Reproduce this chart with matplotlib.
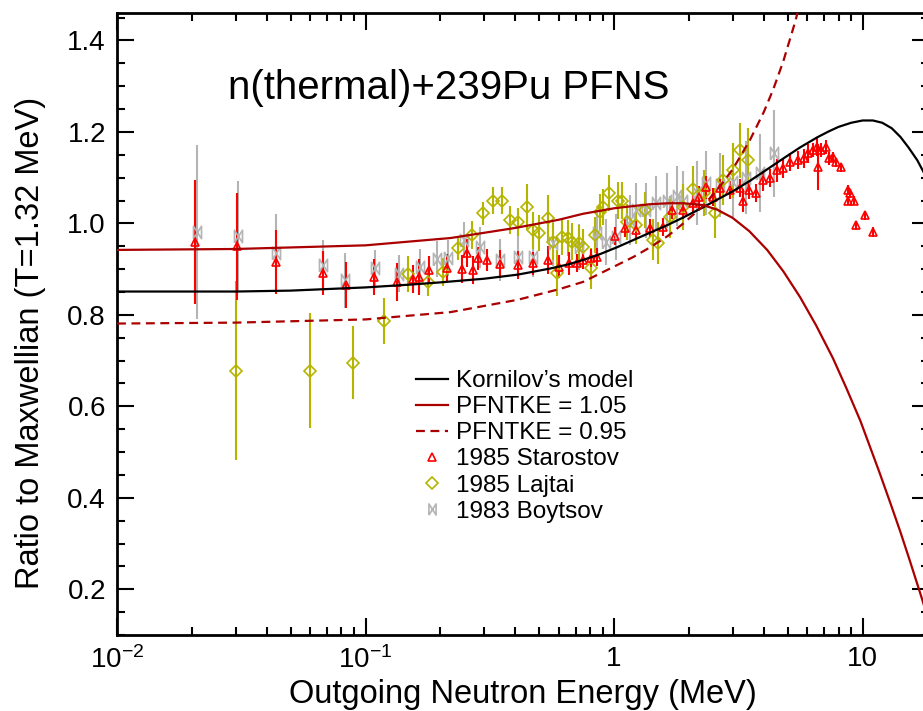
import matplotlib
matplotlib.use("Agg")
import matplotlib.pyplot as plt
from matplotlib.path import Path
from matplotlib.lines import Line2D
from matplotlib.ticker import FixedLocator, FixedFormatter, LogLocator, NullFormatter, MultipleLocator

plt.rcParams['font.family'] = ['Liberation Sans', 'DejaVu Sans']
plt.rcParams['mathtext.fontset'] = 'custom'
plt.rcParams['mathtext.rm'] = 'Liberation Sans'

# ---- model curves (ratio to Maxwellian) ----
kor_e = [0.01, 0.03, 0.05, 0.1, 0.15, 0.2, 0.3, 0.41, 0.55, 0.65, 0.75, 0.88, 1.03, 1.2, 1.4,
         1.65, 1.9, 2.28, 2.6, 3.0, 3.52, 4.1, 4.8, 5.6, 6.56, 7.3, 8.0, 9.0, 10.0, 11.0, 12.0,
         13.1, 14.2, 15.3, 16.6, 17.6, 18.6]
kor_r = [0.851, 0.851, 0.853, 0.860, 0.866, 0.871, 0.879, 0.888, 0.901, 0.910, 0.920, 0.933,
         0.948, 0.964, 0.980, 0.997, 1.013, 1.035, 1.052, 1.070, 1.093, 1.117, 1.142, 1.166,
         1.188, 1.201, 1.211, 1.220, 1.225, 1.225, 1.220, 1.208, 1.189, 1.166, 1.138, 1.112, 1.088]

hi_e = [0.01, 0.03, 0.1, 0.22, 0.4, 0.6, 0.75, 1.0, 1.2, 1.4, 1.65, 1.9, 2.28, 2.6, 3.0, 3.5,
        4.13, 4.8, 5.6, 6.5, 7.6, 8.6, 9.8, 10.7, 11.7, 13.0, 14.2, 15.5, 17.2, 18.6]
hi_r = [0.942, 0.944, 0.952, 0.968, 0.990, 1.008, 1.021, 1.033, 1.038, 1.042, 1.044, 1.044,
        1.040, 1.030, 1.012, 0.983, 0.942, 0.895, 0.839, 0.777, 0.705, 0.640, 0.568, 0.512,
        0.455, 0.385, 0.325, 0.262, 0.185, 0.125]

lo_e = [0.01, 0.03, 0.1, 0.22, 0.41, 0.6, 0.75, 1.03, 1.2, 1.4, 1.65, 1.9, 2.25, 2.6, 3.0,
        3.52, 4.0, 4.37, 4.8, 5.35, 5.9]
lo_r = [0.781, 0.783, 0.790, 0.806, 0.833, 0.856, 0.872, 0.909, 0.927, 0.948, 0.973, 1.000,
        1.035, 1.073, 1.118, 1.182, 1.243, 1.293, 1.355, 1.440, 1.530]

# ---- 1985 Starostov ----
sta_e = [0.0206, 0.0304, 0.0437, 0.0675, 0.0834, 0.108, 0.134, 0.155, 0.164, 0.18, 0.212,
         0.245, 0.256, 0.27, 0.284, 0.308, 0.346, 0.41, 0.47, 0.54, 0.6, 0.66, 0.71, 0.75,
         0.81, 0.85, 1.01, 1.11, 1.23, 1.39, 1.58, 1.71, 1.9, 2.08, 2.2, 2.35, 2.5, 2.67,
         2.93, 3.22, 3.3, 3.5, 3.73, 3.98, 4.25, 4.54, 4.8, 5.1, 5.5, 5.8, 6.05, 6.3, 6.55,
         6.6, 6.8, 7.1, 7.3, 7.6, 7.85, 8.2, 8.7, 8.9, 9.2, 8.75, 9.4, 10.2, 11.0]
sta_r = [0.959, 0.950, 0.916, 0.892, 0.866, 0.883, 0.872, 0.878, 0.883, 0.898, 0.902,
         0.900, 0.935, 0.898, 0.924, 0.920, 0.911, 0.909, 0.913, 0.920, 0.905, 0.913, 0.913, 0.920,
         0.924, 0.927, 0.972, 0.990, 0.985, 0.990, 0.992, 1.029, 1.029, 1.044, 1.057, 1.079, 1.057, 1.077,
         1.073, 1.077, 1.050, 1.073, 1.066, 1.095, 1.099, 1.116, 1.120, 1.134, 1.138, 1.142, 1.153, 1.160, 1.167,
         1.123, 1.160, 1.167, 1.142, 1.145, 1.134, 1.123, 1.073, 1.066, 1.050, 1.050, 0.996, 1.018, 0.981]
sta_d = [0.135, 0.117, 0.07, 0.048, 0.05, 0.04, 0.042, 0.03, 0.04, 0.03, 0.03,
         0.03, 0.03, 0.03, 0.025, 0.025, 0.03, 0.03, 0.025, 0.03, 0.025, 0.025, 0.02, 0.02,
         0.02, 0.02, 0.02, 0.02, 0.02, 0.02, 0.02, 0.02, 0.02, 0.02, 0.025, 0.025, 0.02, 0.02,
         0.02, 0.02, 0.025, 0.02, 0.02, 0.025, 0.02, 0.025, 0.02, 0.02, 0.02, 0.02, 0.02, 0.015, 0.02,
         0.05, 0.015, 0.015, 0.015, 0.01, 0.01, 0.01, 0.01, 0.01, 0.01, 0.01, 0.01, 0.01, 0.01]

# ---- 1985 Lajtai ----
laj_e = [0.030, 0.0598, 0.089, 0.119, 0.148, 0.178, 0.205, 0.235, 0.268, 0.297, 0.325, 0.355,
         0.38, 0.41, 0.445, 0.47, 0.50, 0.54, 0.57, 0.59, 0.62, 0.65, 0.68, 0.72, 0.75, 0.81,
         0.84, 0.88, 0.90, 0.95, 1.04, 1.08, 1.13, 1.23, 1.33, 1.43, 1.5, 1.68, 1.9, 2.08, 2.3,
         2.55, 2.75, 3.0, 3.22, 3.45]
laj_r = [0.678, 0.678, 0.695, 0.787, 0.889, 0.872, 0.894, 0.946, 0.975, 1.022, 1.050, 1.050,
         1.007, 1.003, 1.036, 0.985, 0.979, 1.012, 0.960, 0.892, 0.970, 0.968, 0.960, 0.957, 0.948, 0.902,
         0.975, 1.025, 1.036, 1.066, 1.050, 1.050, 1.003, 0.996, 1.029, 0.964, 0.957, 1.014, 1.036, 1.075, 1.066,
         1.022, 1.095, 1.116, 1.160, 1.138]
laj_d = [0.196, 0.125, 0.08, 0.05, 0.04, 0.03, 0.03, 0.025, 0.03, 0.025, 0.03, 0.03,
         0.03, 0.03, 0.05, 0.04, 0.04, 0.05, 0.04, 0.05, 0.04, 0.04, 0.04, 0.04, 0.04, 0.045,
         0.04, 0.04, 0.04, 0.04, 0.04, 0.04, 0.04, 0.04, 0.04, 0.045, 0.045, 0.045, 0.05, 0.05, 0.05,
         0.055, 0.055, 0.06, 0.06, 0.07]

# ---- 1983 Boytsov ----
boy_e = [0.021, 0.0307, 0.0437, 0.0675, 0.083, 0.109, 0.136, 0.166, 0.194, 0.215, 0.25, 0.289,
         0.346, 0.41, 0.47, 0.57, 0.72, 0.85, 0.93, 1.02, 1.16, 1.23, 1.35, 1.48, 1.63, 1.79,
         1.9, 2.15, 2.35, 2.67, 3.0, 3.4, 3.86, 4.4]
boy_r = [0.981, 0.972, 0.935, 0.909, 0.876, 0.902, 0.890, 0.905, 0.922, 0.924, 0.964, 0.948,
         0.920, 0.927, 0.927, 0.957, 0.948, 0.979, 0.960, 0.970, 1.007, 1.029, 1.029, 1.044, 1.050, 1.060,
         1.050, 1.066, 1.088, 1.084, 1.090, 1.100, 1.110, 1.153]
boy_d = [0.19, 0.12, 0.085, 0.055, 0.06, 0.04, 0.04, 0.04, 0.04, 0.04, 0.04, 0.045,
         0.045, 0.045, 0.045, 0.05, 0.05, 0.05, 0.05, 0.05, 0.055, 0.06, 0.06, 0.06, 0.06, 0.065,
         0.065, 0.07, 0.07, 0.07, 0.075, 0.08, 0.085, 0.095]

RED = "#ff0000"; OLIVE = "#b5b500"; GRAY = "#b4b4b4"; DKRED = "#aa0000"

bowtie = Path([(-0.45, -0.7), (-0.45, 0.7), (0, 0), (0.45, 0.7), (0.45, -0.7), (0, 0), (-0.45, -0.7)])

fig = plt.figure(figsize=(9.23, 7.11), dpi=100)
ax = fig.add_axes([117/923, 76/711, (929-117)/923, (635-13)/711])

ax.errorbar(boy_e, boy_r, yerr=boy_d, fmt='none', ecolor=GRAY, elinewidth=1.5, zorder=2)
ax.errorbar(laj_e, laj_r, yerr=laj_d, fmt='none', ecolor=OLIVE, elinewidth=1.5, zorder=2)
ax.errorbar(sta_e, sta_r, yerr=sta_d, fmt='none', ecolor=RED, elinewidth=1.5, zorder=2)
ax.plot(boy_e, boy_r, ls='none', marker=bowtie, ms=9, mfc='none', mec=GRAY, mew=1.2, zorder=3)
ax.plot(laj_e, laj_r, ls='none', marker='D', ms=6.2, mfc='none', mec=OLIVE, mew=1.2, zorder=3)
ax.plot(sta_e, sta_r, ls='none', marker='^', ms=6.2, mfc='none', mec=RED, mew=1.2, zorder=3)

ax.plot(kor_e, kor_r, color='black', lw=1.6, zorder=4)
ax.plot(hi_e, hi_r, color=DKRED, lw=1.6, zorder=4)
ax.plot(lo_e, lo_r, color=DKRED, lw=1.6, ls=(0, (4, 2.5)), zorder=4)

ax.set_xscale('log')
ax.set_xlim(0.01, 18.5)
ax.set_ylim(0.1, 1.46)
ax.xaxis.set_major_locator(FixedLocator([0.01, 0.1, 1, 10]))
ax.xaxis.set_major_formatter(FixedFormatter([r'$\mathregular{10^{-2}}$', r'$\mathregular{10^{-1}}$', '1', '10']))
ax.xaxis.set_minor_locator(LogLocator(base=10, subs=range(2, 10)))
ax.xaxis.set_minor_formatter(NullFormatter())
ax.yaxis.set_major_locator(MultipleLocator(0.2))
ax.yaxis.set_minor_locator(MultipleLocator(0.05))
ax.yaxis.set_major_formatter(matplotlib.ticker.FormatStrFormatter('%.1f'))
ax.tick_params(which='both', direction='in', top=True, right=True, labelsize=20, width=1.5, pad=8)
ax.tick_params(which='major', length=12)
ax.tick_params(which='minor', length=6)
for s in ax.spines.values():
    s.set_linewidth(2)

narrow = ['Liberation Sans Narrow', 'Liberation Sans']
ax.set_xlabel("Outgoing Neutron Energy (MeV)", fontsize=23.5, family=narrow, labelpad=4)
ax.set_ylabel("Ratio to Maxwellian (T=1.32 MeV)", fontsize=23.5, family=narrow, labelpad=4)
ax.yaxis.set_label_coords(-0.087, 0.47)
ax.text(228, 711 - 88, "n(thermal)+239Pu PFNS", transform=None, fontsize=29, va='center', ha='left')

handles = [
    Line2D([], [], color='black', lw=1.6),
    Line2D([], [], color=DKRED, lw=1.6),
    Line2D([], [], color=DKRED, lw=1.6, ls=(0, (4, 2.5))),
    Line2D([], [], ls='none', marker='^', ms=6, mfc='none', mec=RED, mew=1.2),
    Line2D([], [], ls='none', marker='D', ms=6, mfc='none', mec=OLIVE, mew=1.2),
    Line2D([], [], ls='none', marker=bowtie, ms=8, mfc='none', mec=GRAY, mew=1.2),
]
labels = ["Kornilov’s model", "PFNTKE = 1.05", "PFNTKE = 0.95",
          "1985 Starostov", "1985 Lajtai", "1983 Boytsov"]
ax.legend(handles, labels, loc='upper left', bbox_to_anchor=(416/923, 1 - 370/711),
          bbox_transform=fig.transFigure, frameon=False, fontsize=17.5, handlelength=1.3,
          handletextpad=0.35, labelspacing=0.17, borderpad=0, borderaxespad=0, numpoints=1)

fig.savefig("out.png", dpi=100)
